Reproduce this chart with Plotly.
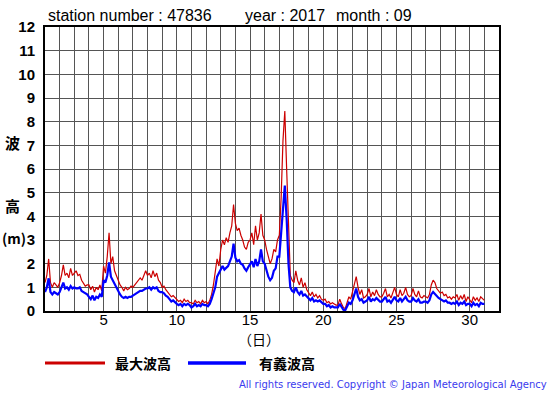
import plotly.graph_objects as go

# ---- data (3-hourly samples, Sept 2017, station 47836) ----
station = "47836"
year = "2017"
month = "09"
name_max = "最大波高"
name_sig = "有義波高"
x_ticks = [5, 10, 15, 20, 25, 30]
y_ticks = list(range(0, 13))

max_wave = [
    # day 1
    1.2, 1.5, 2.2, 1.2, 1.0, 1.2, 1.1, 1.0,
    # day 2
    1.2, 1.5, 1.95, 1.5, 1.6, 1.4, 1.8, 1.5,
    # day 3
    1.6, 1.7, 1.5, 1.55, 1.3, 1.2, 1.05, 1.1,
    # day 4
    1.1, 0.9, 1.05, 0.8, 1.0, 0.9, 1.1, 0.85,
    # day 5
    1.9, 1.6, 2.3, 3.3, 2.0, 2.3, 1.7, 1.5,
    # day 6
    1.3, 1.1, 1.0, 0.85, 1.0, 0.9, 0.95, 1.05,
    # day 7
    1.0, 1.1, 1.2, 1.3, 1.4, 1.3, 1.5, 1.7,
    # day 8
    1.5, 1.6, 1.4, 1.7, 1.45, 1.6, 1.3, 1.2,
    # day 9
    1.0, 1.05, 0.9, 0.8, 0.7, 0.6, 0.65, 0.55,
    # day 10
    0.5, 0.4, 0.45, 0.35, 0.5, 0.4, 0.45, 0.35,
    # day 11
    0.35, 0.3, 0.45, 0.35, 0.4, 0.3, 0.45, 0.35,
    # day 12
    0.4, 0.3, 0.45, 0.7, 1.1, 1.6, 2.2, 1.9,
    # day 13
    2.6, 3.0, 2.8, 3.1, 2.9, 3.3, 3.6, 4.5,
    # day 14
    3.7, 3.4, 3.5, 3.2, 3.0, 2.7, 2.6, 2.9,
    # day 15
    3.0, 3.3, 2.8, 3.6, 3.0, 3.3, 4.1, 3.2,
    # day 16
    3.0, 2.6, 2.3, 2.0, 2.2, 2.6, 2.5, 3.0,
    # day 17
    3.2, 4.8, 7.2, 8.45, 6.0, 3.5, 1.5, 1.3,
    # day 18
    1.2, 1.7, 1.3, 1.1, 1.4, 1.0, 1.2, 0.9,
    # day 19
    0.8, 0.65, 0.8, 0.6, 0.7, 0.55, 0.65, 0.5,
    # day 20
    0.45, 0.5, 0.35, 0.4, 0.3, 0.35, 0.3, 0.25,
    # day 21
    0.25, 0.5, 0.3, 0.15, 0.1, 0.35, 0.6, 0.5,
    # day 22
    0.8, 1.2, 1.45, 1.0, 0.7, 0.9, 0.55, 0.6,
    # day 23
    0.7, 0.95, 0.6, 0.8, 0.65, 0.9, 0.7, 0.6,
    # day 24
    0.6, 0.75, 0.95, 0.6, 0.7, 0.55, 0.8, 1.0,
    # day 25
    0.7, 0.6, 0.9, 0.65, 0.75, 1.0, 0.7, 0.6,
    # day 26
    0.65, 0.95, 0.7, 0.6, 0.85, 0.6, 0.55, 0.65,
    # day 27
    0.6, 0.55, 0.7, 1.1, 1.3, 1.2, 0.95, 0.85,
    # day 28
    0.75, 0.8, 0.65, 0.7, 0.55, 0.6, 0.5, 0.6,
    # day 29
    0.55, 0.7, 0.45, 0.65, 0.5, 0.7, 0.4, 0.6,
    # day 30
    0.5, 0.35, 0.6, 0.45, 0.55, 0.4, 0.6, 0.5,
    # day 31 00h
    0.45,
]

sig_wave = [
    # day 1
    0.8, 1.0, 1.38, 0.8, 0.7, 0.8, 0.75, 0.7,
    # day 2
    0.8, 1.0, 1.2, 0.95, 1.0, 0.9, 1.05, 0.95,
    # day 3
    1.0, 0.95, 0.95, 1.0, 0.85, 0.8, 0.75, 0.7,
    # day 4
    0.6, 0.5, 0.65, 0.45, 0.6, 0.55, 0.7, 0.6,
    # day 5
    1.3, 1.2, 1.5, 2.05, 1.45, 1.3, 1.1, 1.0,
    # day 6
    0.8, 0.7, 0.6, 0.55, 0.6, 0.55, 0.6, 0.6,
    # day 7
    0.65, 0.7, 0.75, 0.8, 0.85, 0.85, 0.9, 0.95,
    # day 8
    0.95, 1.0, 0.9, 1.0, 0.95, 1.0, 0.85, 0.8,
    # day 9
    0.8, 0.75, 0.65, 0.6, 0.5, 0.4, 0.45, 0.35,
    # day 10
    0.3, 0.25, 0.3, 0.2, 0.3, 0.25, 0.3, 0.25,
    # day 11
    0.15, 0.2, 0.3, 0.2, 0.25, 0.2, 0.3, 0.25,
    # day 12
    0.25, 0.2, 0.3, 0.5, 0.75, 1.0, 1.45, 1.6,
    # day 13
    1.8, 1.9, 1.75, 1.85, 1.9, 2.1, 2.3, 2.85,
    # day 14
    2.25, 2.1, 2.15, 2.0, 1.95, 1.8, 1.7, 1.85,
    # day 15
    2.0, 2.1, 1.85, 2.2, 1.9, 2.1, 2.6, 2.1,
    # day 16
    2.0, 1.7, 1.45, 1.3, 1.4, 1.7, 1.8, 2.3,
    # day 17
    2.3, 3.3, 4.5, 5.3, 3.9, 2.0, 1.0, 0.85,
    # day 18
    0.8, 1.0, 0.8, 0.7, 0.85, 0.65, 0.7, 0.6,
    # day 19
    0.5, 0.45, 0.55, 0.4, 0.45, 0.4, 0.45, 0.35,
    # day 20
    0.3, 0.3, 0.2, 0.25, 0.15, 0.2, 0.15, 0.15,
    # day 21
    0.15, 0.3, 0.15, 0.05, 0.03, 0.2, 0.35, 0.3,
    # day 22
    0.45, 0.7, 0.95, 0.6, 0.45, 0.5, 0.35, 0.4,
    # day 23
    0.45, 0.6, 0.4, 0.5, 0.45, 0.55, 0.45, 0.4,
    # day 24
    0.4, 0.5, 0.6, 0.4, 0.45, 0.35, 0.5, 0.6,
    # day 25
    0.45, 0.4, 0.55, 0.4, 0.5, 0.6, 0.45, 0.4,
    # day 26
    0.4, 0.55, 0.45, 0.4, 0.5, 0.35, 0.35, 0.4,
    # day 27
    0.4, 0.35, 0.45, 0.7, 0.8, 0.7, 0.6, 0.55,
    # day 28
    0.5, 0.45, 0.4, 0.45, 0.35, 0.35, 0.3, 0.35,
    # day 29
    0.3, 0.4, 0.25, 0.35, 0.3, 0.4, 0.25, 0.3,
    # day 30
    0.3, 0.2, 0.35, 0.25, 0.3, 0.2, 0.35, 0.3,
    # day 31 00h
    0.3,
]

days = [1 + i / 8 for i in range(len(max_wave))]

RED = "#cc0000"
BLUE = "#0000ff"
JP = "Noto Sans CJK JP"
LAT = "Liberation Sans, Arial, sans-serif"

fig = go.Figure()
fig.add_trace(go.Scatter(x=days, y=max_wave, mode="lines", name=name_max,
                         line=dict(color=RED, width=1.2), showlegend=False))
fig.add_trace(go.Scatter(x=days, y=sig_wave, mode="lines", name=name_sig,
                         line=dict(color=BLUE, width=2.2), showlegend=False))

W, H = 555, 395
L, R, T, B = 45, 499, 27, 311
pw, ph = R - L, B - T

def px(x):
    return (x - L) / pw

def py(y):
    return (B - y) / ph

ann = []
# header
ann.append(dict(text=f"station number : {station}", x=px(46), y=py(16), xanchor="left",
                yanchor="middle", font=dict(family=LAT, size=16, color="#000")))
ann.append(dict(text=f"year : {year}", x=px(243), y=py(16), xanchor="left",
                yanchor="middle", font=dict(family=LAT, size=16, color="#000")))
ann.append(dict(text=f"month : {month}", x=px(334), y=py(16), xanchor="left",
                yanchor="middle", font=dict(family=LAT, size=16, color="#000")))
# y title
ann.append(dict(text="<b>波</b>", x=px(12), y=py(142), xanchor="center", yanchor="middle",
                font=dict(family=JP, size=15, color="#000")))
ann.append(dict(text="<b>高</b>", x=px(12), y=py(206), xanchor="center", yanchor="middle",
                font=dict(family=JP, size=15, color="#000")))
ann.append(dict(text="<b>(m)</b>", x=px(0), y=py(238), xanchor="left", yanchor="middle",
                font=dict(family=JP, size=14, color="#000")))
# x title
ann.append(dict(text="（日）", x=px(259), y=py(339), xanchor="center", yanchor="middle",
                font=dict(family=JP, size=14, color="#000")))
# legend text
ann.append(dict(text=f"<b>{name_max}</b>", x=px(113), y=py(363), xanchor="left", yanchor="middle",
                font=dict(family=JP, size=14, color="#000")))
ann.append(dict(text=f"<b>{name_sig}</b>", x=px(257), y=py(363), xanchor="left", yanchor="middle",
                font=dict(family=JP, size=14, color="#000")))
# copyright
ann.append(dict(text="All rights reserved. Copyright © Japan Meteorological Agency",
                x=px(549), y=py(384), xanchor="right", yanchor="middle",
                font=dict(family="DejaVu Sans", size=10, color="#3a3aee")))
for a in ann:
    a.update(xref="paper", yref="paper", showarrow=False)

shapes = [
    dict(type="line", xref="paper", yref="paper", x0=px(45), x1=px(105), y0=py(363), y1=py(363),
         line=dict(color=RED, width=3)),
    dict(type="line", xref="paper", yref="paper", x0=px(188), x1=px(246), y0=py(363), y1=py(363),
         line=dict(color=BLUE, width=3.5)),
]

fig.update_layout(
    width=W, height=H,
    margin=dict(l=L, r=W - R, t=T, b=H - B, pad=0),
    paper_bgcolor="white", plot_bgcolor="white",
    annotations=ann, shapes=shapes,
    showlegend=False,
    xaxis=dict(range=[1, 32], tickvals=x_ticks, ticktext=[str(v) for v in x_ticks],
               showgrid=True, gridcolor="#555555", gridwidth=1,
               minor=dict(dtick=1, tick0=1, showgrid=True, gridcolor="#555555", gridwidth=1),
               showline=True, linecolor="#000", linewidth=2, mirror=True,
               ticks="", ticklen=0, zeroline=False, ticklabelstandoff=-6,
               tickfont=dict(family=LAT, size=15, color="#000")),
    yaxis=dict(range=[0, 12], tickvals=y_ticks, ticktext=[str(v) for v in y_ticks],
               showgrid=True, gridcolor="#555555", gridwidth=1,
               showline=True, linecolor="#000", linewidth=2, mirror=True,
               ticks="", ticklen=0, zeroline=False, ticklabelstandoff=5,
               tickfont=dict(family=LAT, size=15, color="#000", weight="bold")),
)

fig.write_html("out.html", config={"displayModeBar": False},
               post_script="document.body.style.margin='0';document.body.style.overflow='hidden';")
